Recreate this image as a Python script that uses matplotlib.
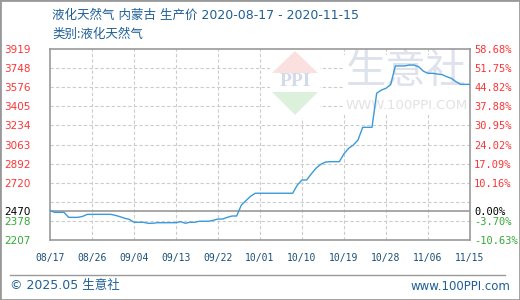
import matplotlib
matplotlib.use("Agg")
import matplotlib.pyplot as plt
import matplotlib.dates as mdates
from matplotlib.patches import Polygon, Rectangle
from matplotlib.lines import Line2D
import pandas as pd

# data (daily, 08/17 .. 11/15)
dates = pd.date_range("2020-08-17", "2020-11-15")
prices = [
    2470, 2455, 2455, 2455, 2410, 2410, 2410, 2419, 2437, 2437,
    2437, 2437, 2437, 2437, 2428, 2416, 2402, 2392, 2366, 2366,
    2366, 2357, 2357, 2362, 2362, 2362, 2362, 2362, 2371, 2357,
    2366, 2366, 2375, 2375, 2375, 2384, 2395, 2395, 2410, 2422,
    2422, 2520, 2560, 2600, 2626, 2626, 2626, 2626, 2626, 2626,
    2626, 2626, 2626, 2700, 2745, 2745, 2800, 2850, 2885, 2905,
    2909, 2909, 2909, 2980, 3029, 3058, 3103, 3217, 3217, 3217,
    3522, 3551, 3567, 3600, 3767, 3767, 3767, 3775, 3775, 3760,
    3720, 3701, 3701, 3695, 3690, 3671, 3656, 3626, 3602, 3602,
    3602,
]
base = 2470
left_ticks = [3919, 3748, 3576, 3405, 3234, 3063, 2892, 2720, 2470, 2378, 2207]
right_labels = ["58.68%", "51.75%", "44.82%", "37.88%", "30.95%", "24.02%",
                "17.09%", "10.16%", "0.00%", "-3.70%", "-10.63%"]
grid_vals = [3748, 3576, 3405, 3234, 3063, 2892, 2720, 2549, 2378]
date_ticks = pd.date_range("2020-08-17", "2020-11-15", freq="9D")

title = "液化天然气 内蒙古 生产价 2020-08-17 - 2020-11-15"
subtitle = "类别:液化天然气"

latin_first = ["DejaVu Sans", "Noto Sans CJK SC"]
cjk = ["Noto Sans CJK SC", "DejaVu Sans"]
blue_txt = "#1f5f96"
red = "#ff3333"
green = "#33aa33"
W, H = 520, 300


def fx(x):
    return x / W


def fy(y):
    return 1 - y / H


fig = plt.figure(figsize=(5.2, 3.0), dpi=100)
fig.patch.set_facecolor("white")
ax = fig.add_axes([fx(50), fy(240), fx(470) - fx(50), fy(49) - fy(240)])
tf = fig.transFigure

# watermark (inside the axes so it sits over the grid but under the line)
ax.add_patch(Rectangle((fx(270), fy(118)), fx(50), 68 / H, transform=tf,
                       fc="white", ec="none", zorder=1.5))
ax.add_patch(Rectangle((fx(343), fy(113)), fx(126), 58 / H, transform=tf,
                       fc="white", ec="none", zorder=1.5))
ax.add_patch(Polygon([[fx(272), fy(73)], [fx(318), fy(73)], [fx(295), fy(51)]],
                     closed=True, transform=tf, fc="#fbe0e0", ec="none", zorder=1.6))
ax.add_patch(Polygon([[fx(272), fy(92)], [fx(318), fy(92)], [fx(295), fy(115)]],
                     closed=True, transform=tf, fc="#dcf0dc", ec="none", zorder=1.6))
ax.text(fx(295), fy(82), "PPI", transform=tf, ha="center", va="center", fontsize=14,
        color="#d3dae8", family="Liberation Serif", fontweight="bold", zorder=1.7)
ax.text(fx(406), fy(72), "生意社", transform=tf, ha="center", va="center", fontsize=29,
        color="#dde2ec", family=cjk, zorder=1.7)
ax.text(fx(407), fy(106), "WWW.100PPI.COM", transform=tf, ha="center", va="center",
        fontsize=9.5, color="#e2e2e2", zorder=1.7)

for v in grid_vals:
    ax.axhline(v, color="#cccccc", lw=0.8, ls=(0, (3, 2)), zorder=1)
for d in date_ticks[1:-1]:
    ax.axvline(d, color="#cccccc", lw=0.8, ls=(0, (3, 2)), zorder=1)
ax.axhline(base, color="#999999", lw=1.2, zorder=2)

ax.plot(dates, prices, color="#3a9ad9", lw=1.0, zorder=3)

ax.set_xlim(dates[0], dates[-1])
ax.set_ylim(2207, 3919)
ax.set_facecolor("none")
for s in ax.spines.values():
    s.set_color("#999999")
    s.set_linewidth(1.2)

ax.set_yticks(left_ticks)
ax.set_yticklabels([str(v) for v in left_ticks])
ax.tick_params(axis="y", length=0, pad=33, labelsize=7.5)
for lab, v in zip(ax.get_yticklabels(), left_ticks):
    lab.set_horizontalalignment("left")
    lab.set_color("black" if v == base else (green if v < base else red))

ax.set_xticks(date_ticks)
ax.xaxis.set_major_formatter(mdates.DateFormatter("%m/%d"))
ax.tick_params(axis="x", length=0, pad=9, labelsize=7, labelcolor="#1a4f7a")
for lab in ax.get_xticklabels():
    lab.set_family("DejaVu Sans Mono")

ax2 = ax.twinx()
ax2.set_ylim(ax.get_ylim())
ax2.set_yticks(left_ticks)
ax2.set_yticklabels(right_labels)
ax2.tick_params(axis="y", length=0, pad=3, labelsize=7.5)
for lab, v in zip(ax2.get_yticklabels(), left_ticks):
    lab.set_family("DejaVu Sans Mono")
    lab.set_color("black" if v == base else (green if v < base else red))
for s in ax2.spines.values():
    s.set_visible(False)

fig.text(fx(52), fy(15), title, ha="left", va="center", fontsize=9, color=blue_txt,
         family=latin_first)
fig.text(fx(52), fy(34), subtitle, ha="left", va="center", fontsize=9, color=blue_txt,
         family=cjk)

fig.add_artist(Line2D([fx(10), fx(505)], [fy(275), fy(275)], transform=tf,
                      color="#999999", lw=1))
fig.text(fx(10), fy(286), "© 2025.05 生意社", ha="left", va="center", fontsize=9,
         color=blue_txt, family=latin_first)
fig.text(fx(510), fy(286), "www.100PPI.com", ha="right", va="center", fontsize=8.5,
         color=blue_txt)

fig.add_artist(Rectangle((0, 0), 1, 1, transform=tf, fill=False,
                         ec="#999999", lw=2))

fig.savefig("out.png", dpi=100)
